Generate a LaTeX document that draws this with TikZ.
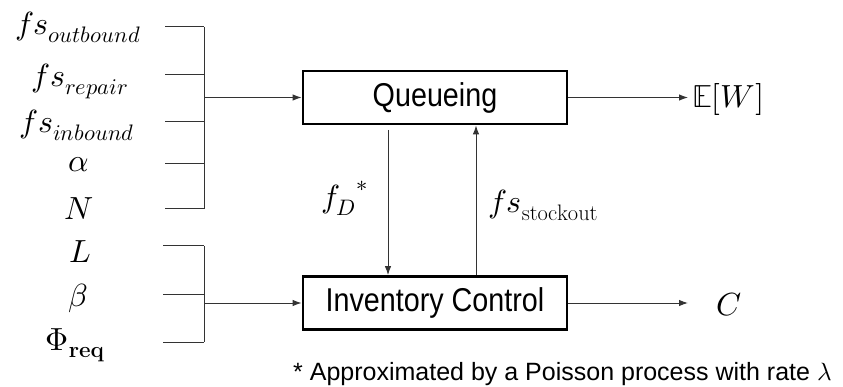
\documentclass[tikz,border=0pt]{standalone}
\usepackage{fontspec}
\usepackage{unicode-math}
\setmathfont{Latin Modern Math}
\newfontfamily\arialf{Liberation Sans}
\usetikzlibrary{arrows.meta}
\tikzset{
  conn/.style={draw=black!80, line width=1pt},
  arr/.style={conn, -{Latex[length=9pt,width=6.5pt]}},
  blockbox/.style={draw=black, line width=2.8pt, minimum width=264pt, minimum height=53pt, inner sep=0pt,
    font=\arialf\fontsize{33}{38}\selectfont},
  mlabel/.style={anchor=base, inner sep=0pt, font=\fontsize{32}{36}\selectfont},
  notetext/.style={anchor=base west, inner sep=0pt, font=\arialf\fontsize{25}{30}\selectfont}
}
\begin{document}
\begin{tikzpicture}[x=1pt,y=-1pt]
\path[use as bounding box] (0,0) rectangle (843,387);

% blocks
\node[blockbox] (q) at (435,97.5) {\scalebox{0.87}[1]{Queueing}};
\node[blockbox] (inv) at (435,303) {\scalebox{0.87}[1]{Inventory Control}};

% left labels
\node[mlabel] (l1) at (78,35) {$f s_{outbound}$};
\node[mlabel] (l2) at (80,87) {$f s_{repair}$};
\node[mlabel] (l3) at (77,133) {$f s_{inbound}$};
\node[mlabel] (l4) at (79,172) {$\alpha$};
\node[mlabel] (l5) at (79,220) {$N$};
\node[mlabel] (l6) at (80,263) {$L$};
\node[mlabel] (l7) at (78,306) {$\beta$};
\node[mlabel] (l8) at (75,350) {$\Phi_{\mathbf{req}}$};

% top bracket
\coordinate (t1) at (165,27);
\coordinate (t2) at (165,75);
\coordinate (t3) at (165,122);
\coordinate (t4) at (165,164);
\coordinate (t5) at (165,209);
\coordinate (tj) at (204,97.5);
\draw[conn] (204,27) -- (204,209);
\foreach \c in {t1,t2,t3,t4,t5} \draw[conn] (\c) -- (\c -| tj);
\draw[arr] (tj) -- (q.west);

% bottom bracket
\coordinate (b1) at (163,246);
\coordinate (b2) at (163,295);
\coordinate (b3) at (163,342);
\coordinate (bj) at (204,303);
\draw[conn] (204,246) -- (204,342);
\foreach \c in {b1,b2,b3} \draw[conn] (\c) -- (\c -| bj);
\draw[arr] (bj) -- (inv.west);

% vertical links
\coordinate (dtop) at (388,130);
\coordinate (ux) at (476,200);
\draw[arr] (dtop) -- (dtop |- inv.north);
\draw[arr] (inv.north -| ux) -- (q.south -| ux);
\node[anchor=base west, inner sep=0pt, font=\fontsize{32}{36}\selectfont] (fd) at (321,208) {${f_D}^{*}$};
\node[anchor=base west, inner sep=0pt, font=\fontsize{32}{36}\selectfont] (fst) at (488,213) {$f s_{\mathrm{stockout}}$};

% outputs
\node[anchor=base west, inner sep=0pt, font=\fontsize{32}{36}\selectfont] (ew) at (692,108) {$\mathbb{E}[W]$};
\node[anchor=base west, inner sep=0pt, font=\fontsize{32}{36}\selectfont] (c) at (716,315) {$C$};
\coordinate (ewtip) at (688,97.5);
\coordinate (ctip) at (688,303);
\draw[arr] (q.east) -- (ewtip);
\draw[arr] (inv.east) -- (ctip);

% note
\node[notetext] (note) at (293,380) {* Approximated by a Poisson process with rate $\lambda$};
\end{tikzpicture}
\end{document}
